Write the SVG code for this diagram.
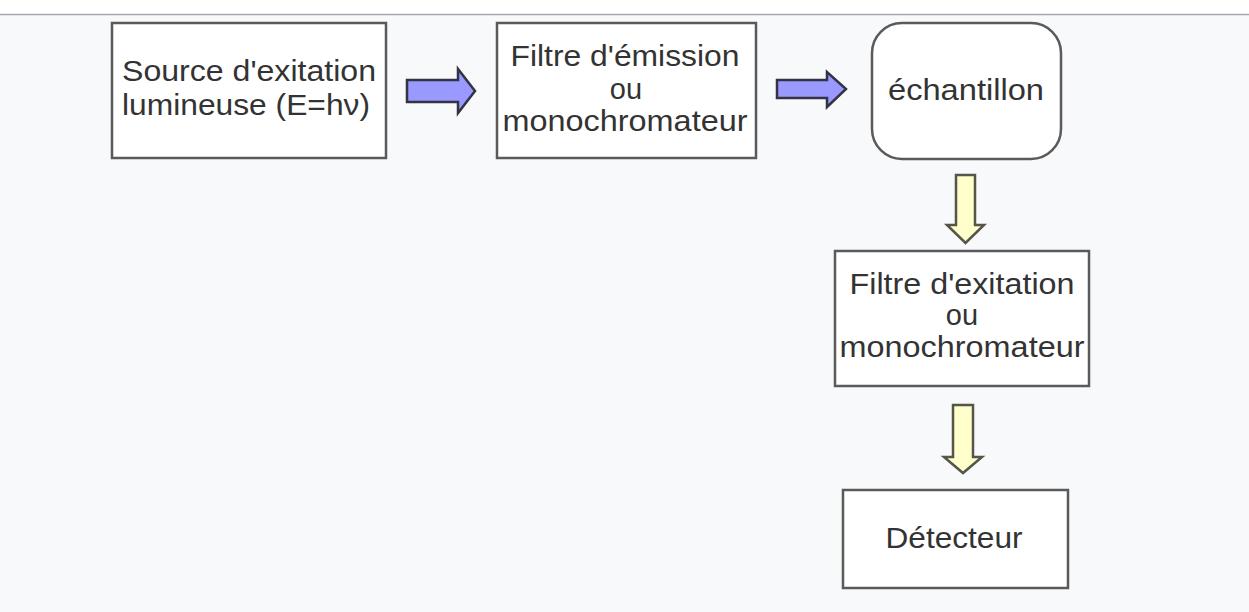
<svg xmlns="http://www.w3.org/2000/svg" width="1249" height="612" viewBox="0 0 1249 612">
<style>
.box{fill:#fff;stroke:#5a5a5a;stroke-width:2.5}
.t{font-family:"Liberation Sans",Arial,sans-serif;font-size:29px;fill:#333;text-anchor:middle}
.blue{fill:#9999ff;stroke:#333344;stroke-width:2.5;stroke-linejoin:miter}
.yel{fill:#ffffcc;stroke:#555548;stroke-width:2.5;stroke-linejoin:miter}
</style>
<rect x="0" y="0" width="1249" height="612" fill="#f8f9fa"/>
<rect x="0" y="0" width="1249" height="14" fill="#fff"/>
<line x1="0" y1="14.5" x2="1249" y2="14.5" stroke="#a2a9b1" stroke-width="1.5"/>
<g id="source">
<rect class="box" x="112" y="23" width="274" height="135"/>
<text class="t" x="249" y="81" textLength="254" lengthAdjust="spacingAndGlyphs">Source d'exitation</text>
<text class="t" x="246" y="115" textLength="248" lengthAdjust="spacingAndGlyphs">lumineuse (E=hν)</text>
</g>
<g id="filtre-emission">
<rect class="box" x="497" y="23" width="259" height="135"/>
<text class="t" x="625" y="66" textLength="229" lengthAdjust="spacingAndGlyphs">Filtre d'émission</text>
<text class="t" x="626" y="99">ou</text>
<text class="t" x="625" y="131" textLength="245" lengthAdjust="spacingAndGlyphs">monochromateur</text>
</g>
<g id="echantillon">
<rect class="box" x="872" y="23" width="189" height="136" rx="30" ry="30"/>
<text class="t" x="966" y="100" textLength="156" lengthAdjust="spacingAndGlyphs">échantillon</text>
</g>
<g id="filtre-exitation">
<rect class="box" x="835" y="251" width="254" height="135"/>
<text class="t" x="962" y="294" textLength="225" lengthAdjust="spacingAndGlyphs">Filtre d'exitation</text>
<text class="t" x="962" y="325">ou</text>
<text class="t" x="962" y="357" textLength="245" lengthAdjust="spacingAndGlyphs">monochromateur</text>
</g>
<g id="detecteur">
<rect class="box" x="843" y="490" width="225" height="98"/>
<text class="t" x="954" y="548" textLength="137" lengthAdjust="spacingAndGlyphs">Détecteur</text>
</g>
<g id="connectors">
<polygon class="blue" points="407,80 458,80 458,69 475,91 458,113 458,102 407,102"/>
<polygon class="blue" points="777,80 827,80 827,72 846,89 827,107 827,98 777,98"/>
<polygon class="yel" points="956,175 975,175 975,225 984,225 965.5,243 947,225 956,225"/>
<polygon class="yel" points="953,405 973,405 973,457 982,457 963,473 944,457 953,457"/>
</g>
</svg>
